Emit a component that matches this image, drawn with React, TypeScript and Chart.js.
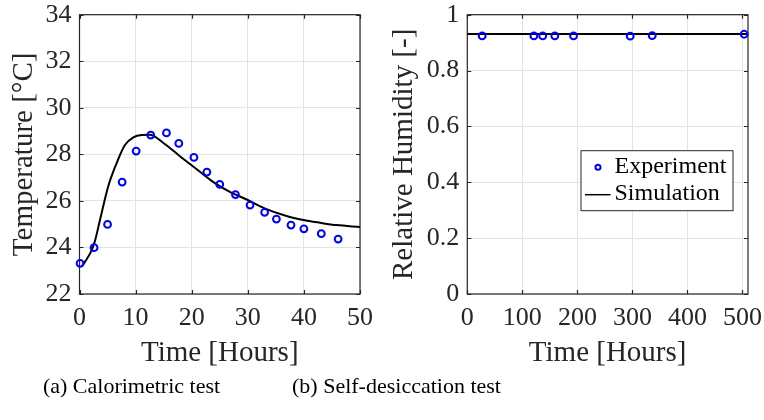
import React, { useEffect, useRef } from 'react';
import { Chart, registerables } from 'chart.js';
Chart.register(...registerables);

// ---- Data: (a) Calorimetric test ----
const calTimeExp = [0.1, 2.6, 5.0, 7.6, 10.1, 12.7, 15.5, 17.7, 20.4, 22.7, 25.0, 27.8, 30.4, 33.0, 35.1, 37.7, 40.0, 43.1, 46.1];
const calTempExp = [23.32, 23.99, 24.99, 26.81, 28.14, 28.83, 28.92, 28.47, 27.87, 27.24, 26.71, 26.27, 25.82, 25.51, 25.22, 24.96, 24.8, 24.59, 24.36];
const calTimeSim = [0.4, 1.0, 2.2, 2.8, 3.65, 5.1, 6.6, 8.1, 9.6, 11.1, 12.5, 14.9, 17.9, 20.9, 23.8, 26.8, 29.8, 33.0, 36.9, 39.9, 42.9, 45.8, 50];
const calTempSim = [23.18, 23.39, 23.9, 24.32, 25.18, 26.61, 27.61, 28.4, 28.73, 28.83, 28.84, 28.5, 27.92, 27.36, 26.82, 26.39, 26.06, 25.68, 25.35, 25.18, 25.06, 24.96, 24.88];
const calXTicks = [0, 10, 20, 30, 40, 50];
const calYTicks = [22, 24, 26, 28, 30, 32, 34];

// ---- Data: (b) Self-desiccation test ----
const rhTimeExp = [27, 121, 137, 159, 193, 296, 336, 503];
const rhValExp = [0.924, 0.924, 0.924, 0.924, 0.924, 0.923, 0.925, 0.93];
const rhTimeSim = [0, 510];
const rhValSim = [0.931, 0.931];
const rhXTicks = [0, 100, 200, 300, 400, 500];
const rhYTicks = [0, 0.2, 0.4, 0.6, 0.8, 1];

const seriesLabels = ['Experiment', 'Simulation'];
const captions = ['(a) Calorimetric test', '(b) Self-desiccation test'];

const SERIF = 'Liberation Serif';
const AXIS_COLOR = '#262626';
Chart.defaults.font.family = SERIF;

const framePlugin = {
  id: 'frame',
  beforeDatasetsDraw(chart: any) {
    const { ctx, chartArea: a, scales } = chart;
    ctx.save();
    ctx.strokeStyle = AXIS_COLOR;
    ctx.lineWidth = 1.2;
    const tl = 4;
    ctx.beginPath();
    scales.x.ticks.forEach((t: any) => {
      const px = Math.round(scales.x.getPixelForValue(t.value)) + 0.5;
      ctx.moveTo(px, a.bottom); ctx.lineTo(px, a.bottom - tl);
      ctx.moveTo(px, a.top); ctx.lineTo(px, a.top + tl);
    });
    scales.y.ticks.forEach((t: any) => {
      const py = Math.round(scales.y.getPixelForValue(t.value)) + 0.5;
      ctx.moveTo(a.left, py); ctx.lineTo(a.left + tl, py);
      ctx.moveTo(a.right, py); ctx.lineTo(a.right - tl, py);
    });
    ctx.stroke();
    ctx.strokeRect(a.left, a.top, a.right - a.left, a.bottom - a.top);
    ctx.restore();
  },
};

const legendPlugin = {
  id: 'boxLegend',
  afterDatasetsDraw(chart: any, _args: any, opts: any) {
    if (!opts || !opts.show) return;
    const { ctx, chartArea: a } = chart;
    const w = 152, h = 60;
    const left = a.right - 15.5 - w;
    const top = a.top + 135.5;
    ctx.save();
    ctx.fillStyle = '#ffffff';
    ctx.fillRect(left, top, w, h);
    ctx.strokeStyle = AXIS_COLOR;
    ctx.lineWidth = 1;
    ctx.strokeRect(left + 0.5, top + 0.5, w, h);
    const ds = chart.data.datasets;
    ctx.beginPath();
    ctx.strokeStyle = '#0000ff';
    ctx.lineWidth = 2;
    ctx.arc(left + 17.5, top + 17, 2.5, 0, Math.PI * 2);
    ctx.stroke();
    ctx.beginPath();
    ctx.strokeStyle = '#000000';
    ctx.lineWidth = 1.5;
    ctx.moveTo(left + 4.5, top + 44.5);
    ctx.lineTo(left + 30, top + 44.5);
    ctx.stroke();
    ctx.fillStyle = '#000000';
    ctx.font = '24px "Liberation Serif"';
    ctx.textBaseline = 'middle';
    ctx.textAlign = 'left';
    ctx.fillText(ds[0].label, left + 34, top + 17);
    ctx.fillText(ds[1].label, left + 34, top + 44);
    ctx.restore();
  },
};

function makeConfig(p: {
  xe: number[]; ye: number[]; xs: number[]; ys: number[];
  xTicks: number[]; yTicks: number[]; xMax: number; yMin: number; yMax: number;
  yTitle: string; yWidth: number; padRight: number; legend: boolean; yDigits: number;
  xStep: number; yStep: number;
}): any {
  const tickFont = () => ({ family: SERIF, size: 26, weight: 'normal' });
  const titleFont = () => ({ family: SERIF, size: 29, weight: 'normal' });
  return {
    type: 'scatter',
    data: {
      datasets: [
        {
          label: seriesLabels[0],
          data: p.xe.map((x, i) => ({ x, y: p.ye[i] })),
          showLine: false,
          pointRadius: 3.4,
          pointBorderWidth: 2,
          pointBorderColor: '#0000ff',
          pointBackgroundColor: 'rgba(255,255,255,0)',
          clip: false,
          order: 0,
        },
        {
          label: seriesLabels[1],
          data: p.xs.map((x, i) => ({ x, y: p.ys[i] })),
          showLine: true,
          borderColor: '#000000',
          borderWidth: 2,
          pointRadius: 0,
          cubicInterpolationMode: 'monotone',
          clip: false,
          order: 1,
        },
      ],
    },
    options: {
      responsive: false,
      animation: false,
      layout: { padding: { left: 0, right: p.padRight, top: 14.7, bottom: 0 } },
      plugins: {
        legend: { display: false },
        tooltip: { enabled: false },
        boxLegend: { show: p.legend },
      },
      scales: {
        x: {
          type: 'linear',
          min: 0,
          max: p.xMax,
          border: { display: false },
          grid: { color: '#e3e3e3', lineWidth: 1, drawTicks: false },
          ticks: { font: tickFont(), color: AXIS_COLOR, padding: 9, stepSize: p.xStep, maxRotation: 0, callback: (v: number) => String(v) },
          afterBuildTicks: (s: any) => { s.ticks = p.xTicks.map((v) => ({ value: v })); },
          afterFit: (s: any) => { s.height = 78; s.paddingLeft = 0; s.paddingRight = 0; },
          title: { display: true, text: 'Time [Hours]', font: titleFont(), color: AXIS_COLOR, padding: { top: 0, bottom: 1 } },
        },
        y: {
          type: 'linear',
          min: p.yMin,
          max: p.yMax,
          border: { display: false },
          grid: { color: '#e3e3e3', lineWidth: 1, drawTicks: false },
          ticks: { font: tickFont(), color: AXIS_COLOR, padding: 8, stepSize: p.yStep, callback: (v: number) => String(Number(v.toFixed(p.yDigits))) },
          afterBuildTicks: (s: any) => { s.ticks = p.yTicks.map((v) => ({ value: v })); },
          afterFit: (s: any) => { s.width = p.yWidth; s.paddingTop = 0; s.paddingBottom = 0; },
          title: { display: true, text: p.yTitle, font: titleFont(), color: AXIS_COLOR, padding: { top: 7, bottom: 0 } },
        },
      },
    },
    plugins: [framePlugin, legendPlugin],
  };
}

function ChartCanvas({ config, left, width }: { config: any; left: number; width: number }) {
  const ref = useRef<HTMLCanvasElement | null>(null);
  useEffect(() => {
    if (!ref.current) return;
    const chart = new Chart(ref.current, config);
    return () => chart.destroy();
  }, []);
  return (
    <canvas
      ref={ref}
      width={width}
      height={372}
      style={{ position: 'absolute', left, top: 0, width, height: 372 }}
    />
  );
}

export default function App() {
  const cfgA = makeConfig({
    xe: calTimeExp, ye: calTempExp, xs: calTimeSim, ys: calTempSim,
    xTicks: calXTicks, yTicks: calYTicks, xMax: 50, yMin: 22, yMax: 34,
    yTitle: 'Temperature [°C]', yWidth: 79.5, padRight: 20, legend: false, yDigits: 0,
    xStep: 10, yStep: 2,
  });
  const cfgB = makeConfig({
    xe: rhTimeExp, ye: rhValExp, xs: rhTimeSim, ys: rhValSim,
    xTicks: rhXTicks, yTicks: rhYTicks, xMax: 510, yMin: 0, yMax: 1,
    yTitle: 'Relative Humidity [-]', yWidth: 87.3, padRight: 16, legend: true, yDigits: 1,
    xStep: 100, yStep: 0.2,
  });
  const capStyle: React.CSSProperties = {
    position: 'absolute',
    top: 371,
    height: 30,
    lineHeight: '30px',
    fontFamily: '"Liberation Serif", serif',
    fontSize: 22,
    color: '#000',
    whiteSpace: 'nowrap',
    transform: 'translateX(-50%)',
  };
  return (
    <div style={{ position: 'fixed', left: 0, top: 0, width: 764, height: 420, background: '#fff', overflow: 'hidden' }}>
      <ChartCanvas config={cfgA} left={0} width={380} />
      <ChartCanvas config={cfgB} left={380} width={384} />
      <div style={{ ...capStyle, left: 131.5 }}>{captions[0]}</div>
      <div style={{ ...capStyle, left: 396.5 }}>{captions[1]}</div>
    </div>
  );
}
